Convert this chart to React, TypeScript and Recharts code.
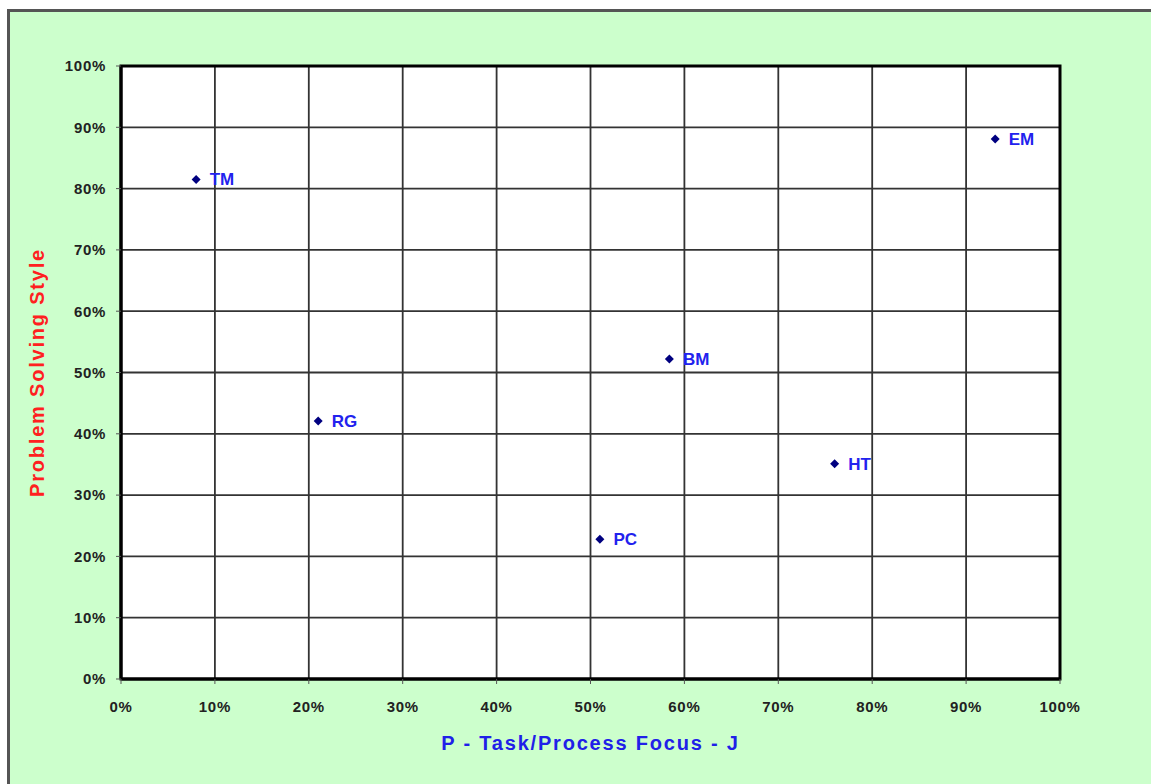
import { ScatterChart, Scatter, XAxis, YAxis, CartesianGrid, ReferenceArea, LabelList, Label } from "recharts";

// people plotted on the chart
const names = ["TM", "RG", "PC", "BM", "HT", "EM"];
const focusValues = [0.08, 0.21, 0.51, 0.584, 0.76, 0.931];
const styleValues = [0.815, 0.421, 0.228, 0.522, 0.351, 0.881];

const tickValues = [0, 0.1, 0.2, 0.3, 0.4, 0.5, 0.6, 0.7, 0.8, 0.9, 1];

const data = names.map((name, i) => ({ name, x: focusValues[i], y: styleValues[i] }));

const pct = (v: number) => `${Math.round(v * 100)}%`;

const tickStyle = { fontFamily: "Arial, 'Liberation Sans', sans-serif", fontSize: 15, fontWeight: 700, fill: "#222", letterSpacing: 0.7 };
const titleFont = "Arial, 'Liberation Sans', sans-serif";

// small navy diamond like the spreadsheet marker
const Diamond = (props: any) => {
  const { cx, cy } = props;
  return <path d={`M${cx},${cy - 4.5} L${cx + 4.5},${cy} L${cx},${cy + 4.5} L${cx - 4.5},${cy} Z`} fill="#000080" />;
};

export default function App() {
  return (
    <div
      style={{
        position: "fixed",
        left: 7,
        top: 9,
        width: 1151,
        height: 784,
        background: "#CCFFCC",
        borderTop: "3px solid #555",
        borderLeft: "3px solid #555",
      }}
    >
      <ScatterChart width={1141} height={772} margin={{ top: 54, right: 91, bottom: 65, left: 41 }}>
        <CartesianGrid stroke="#333" strokeWidth={1.8} fill="#ffffff" />
        <XAxis
          type="number"
          dataKey="x"
          domain={[0, 1]}
          ticks={tickValues}
          tickFormatter={pct}
          height={40}
          tick={tickStyle}
          tickSize={5}
          tickMargin={17}
          axisLine={{ stroke: "#000", strokeWidth: 3 }}
          tickLine={{ stroke: "#555" }}
          interval={0}
        >
          <Label
            content={(p: any) => {
              const vb = p.viewBox;
              return (
                <text
                  x={vb.x + vb.width / 2}
                  y={vb.y + 64}
                  textAnchor="middle"
                  dominantBaseline="central"
                  fill="#2020E8"
                  fontFamily={titleFont}
                  fontSize={20}
                  fontWeight={700}
                  letterSpacing={1.8}
                >
                  P - Task/Process Focus - J
                </text>
              );
            }}
          />
        </XAxis>
        <YAxis
          type="number"
          dataKey="y"
          domain={[0, 1]}
          ticks={tickValues}
          tickFormatter={pct}
          width={70}
          tick={tickStyle}
          tickSize={5}
          tickMargin={10}
          axisLine={{ stroke: "#000", strokeWidth: 3 }}
          tickLine={{ stroke: "#555" }}
          interval={0}
        >
          <Label
            content={(p: any) => {
              const vb = p.viewBox;
              const cx = vb.x - 14;
              const cy = vb.y + vb.height / 2;
              return (
                <text
                  x={cx}
                  y={cy}
                  transform={`rotate(-90 ${cx} ${cy})`}
                  textAnchor="middle"
                  dominantBaseline="central"
                  fill="#FF2020"
                  fontFamily={titleFont}
                  fontSize={20}
                  fontWeight={700}
                  letterSpacing={1.8}
                >
                  Problem Solving Style
                </text>
              );
            }}
          />
        </YAxis>
        <ReferenceArea x1={0} x2={1} y1={0} y2={1} fill="none" stroke="#000" strokeWidth={3} fillOpacity={0} />
        <Scatter data={data} shape={Diamond} isAnimationActive={false}>
          <LabelList
            dataKey="name"
            position="right"
            offset={9}
            fill="#2222EE"
            fontFamily={titleFont}
            fontSize={17}
            fontWeight={700}
          />
        </Scatter>
      </ScatterChart>
    </div>
  );
}
